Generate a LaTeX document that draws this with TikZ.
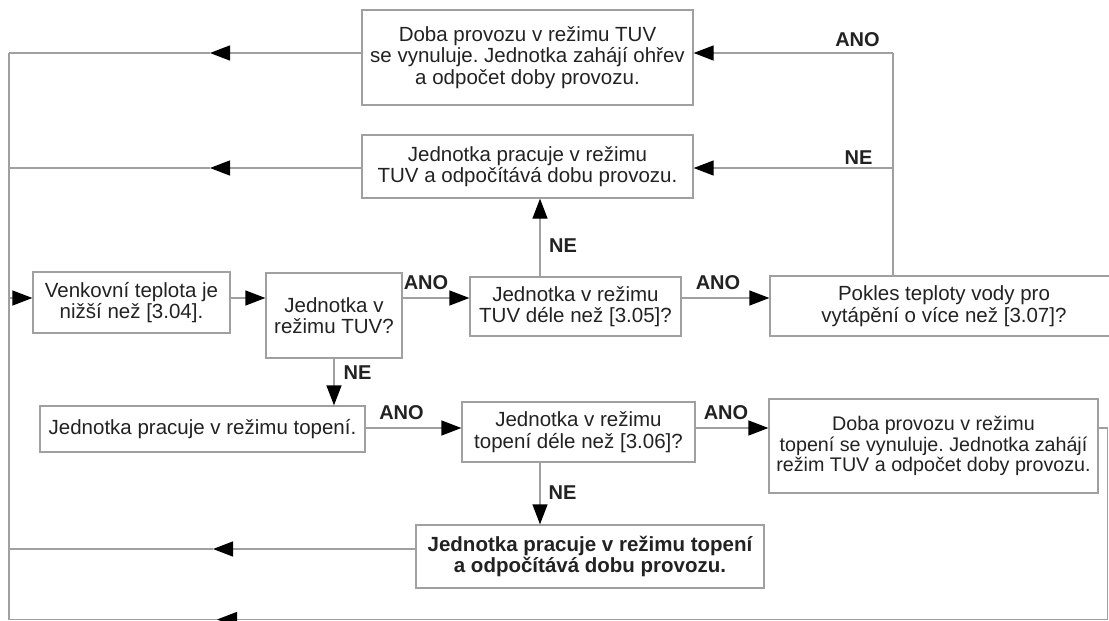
\documentclass[tikz,border=0pt]{standalone}
\usepackage{fontspec}
\setmainfont{Liberation Sans}
\usetikzlibrary{arrows.meta}
\definecolor{linegray}{HTML}{A0A0A0}
\definecolor{txt}{HTML}{222222}
\frenchspacing
\begin{document}
\begin{tikzpicture}[x=1pt,y=-1pt,
  box/.style={draw=linegray, line width=1.3pt, rectangle, inner sep=0pt, align=center, text=txt,
              font=\fontsize{20.5}{21.5}\selectfont},
  conn/.style={draw=linegray, line width=1.3pt},
  arr/.style={conn, -{Triangle[length=20pt,width=15pt,color=black]}},
  lbl/.style={font=\bfseries\fontsize{20}{22}\selectfont, text=txt, inner sep=0pt}]
\useasboundingbox (0,0) rectangle (1109,621);

% boxes
\node[box, minimum width=331pt, minimum height=95pt] (b1) at (527.5,57.5)
  {Doba provozu v režimu TUV\\se vynuluje. Jednotka zahájí ohřev\\a odpočet doby provozu.};
\node[box, minimum width=331pt, minimum height=63pt] (b2) at (527.5,166.5)
  {Jednotka pracuje v režimu\\TUV a odpočítává dobu provozu.};
\node[box, minimum width=197pt, minimum height=61pt] (b3) at (131.5,302.5)
  {Venkovní teplota je\\nižší než [3.04].};
\node[box, minimum width=136pt, minimum height=85pt] (b4) at (334,315.5)
  {Jednotka v\\režimu TUV?};
\node[box, minimum width=211pt, minimum height=59pt] (b5) at (575.5,306.5)
  {Jednotka v režimu\\TUV déle než [3.05]?};
\node[box, minimum width=348pt, minimum height=60pt] (bP) at (944,306)
  {Pokles teploty vody pro\\vytápění o více než [3.07]?};
\node[box, minimum width=325pt, minimum height=46pt] (b6) at (202.5,429)
  {Jednotka pracuje v režimu topení.};
\node[box, minimum width=233pt, minimum height=60pt] (b7) at (578.5,432)
  {Jednotka v režimu\\topení déle než [3.06]?};
\node[box, minimum width=329pt, minimum height=94pt, font=\fontsize{19.7}{20.8}\selectfont] (b8) at (933.5,446)
  {Doba provozu v režimu\\topení se vynuluje. Jednotka zahájí\\režim TUV a odpočet doby provozu.};
\node[box, minimum width=348pt, minimum height=63pt, font=\bfseries\fontsize{20.5}{21.5}\selectfont] (b9) at (590,556.5)
  {Jednotka pracuje v režimu topení\\a odpočítává dobu provozu.};

% coordinates
\coordinate (L1) at (9,53);   \coordinate (A1) at (210,53);  \coordinate (R1) at (893,53);
\coordinate (L2) at (9,168);  \coordinate (A2) at (210,168); \coordinate (R2) at (893,168);
\coordinate (L3) at (9,298);
\coordinate (M) at (0,428);
\coordinate (x540) at (540,0);
\coordinate (L9) at (9,549);  \coordinate (A9) at (213,549);
\coordinate (RB) at (1107.5,428); \coordinate (RC) at (1107.5,619.5);
\coordinate (AB) at (217,619.5);  \coordinate (LB) at (9,619.5);

% connectors
\draw[conn] (L1) -- (LB);
\draw[arr] (R1) -- (b1.east |- R1);
\draw[arr] (R2) -- (b2.east |- R2);
\draw[conn] (R1) -- (bP.north -| R1);
\draw[arr] (b1.west |- R1) -- (A1);
\draw[conn] (A1) -- (L1);
\draw[arr] (b2.west |- R2) -- (A2);
\draw[conn] (A2) -- (L2);
\draw[arr] (L3) -- (b3.west |- L3);
\draw[arr] (b3.east |- L3) -- (b4.west |- L3);
\draw[arr] (b4.east |- L3) -- (b5.west |- L3);
\draw[arr] (b5.east |- L3) -- (bP.west |- L3);
\draw[arr] (b5.north -| x540) -- (b2.south -| x540);
\draw[arr] (b4.south) -- (b6.north -| b4.south);
\draw[arr] (b6.east |- M) -- (b7.west |- M);
\draw[arr] (b7.east |- M) -- (b8.west |- M);
\draw[arr] (b7.south -| x540) -- (b9.north -| x540);
\draw[arr] (b9.west |- L9) -- (A9);
\draw[conn] (A9) -- (L9);
\draw[conn] (b8.east |- M) -- (RB) -- (RC);
\draw[arr] (RC) -- (AB);
\draw[conn] (AB) -- (LB);

% labels
\node[lbl] (t1) at (857.5,40) {ANO};
\node[lbl] (t2) at (858.5,157.5) {NE};
\node[lbl] (t3) at (563,246) {NE};
\node[lbl] (t4) at (426,283) {ANO};
\node[lbl] (t5) at (718,283) {ANO};
\node[lbl] (t6) at (357.5,372.5) {NE};
\node[lbl] (t7) at (401.5,413) {ANO};
\node[lbl] (t8) at (726,412.5) {ANO};
\node[lbl] (t9) at (562.5,492.5) {NE};
\end{tikzpicture}
\end{document}
